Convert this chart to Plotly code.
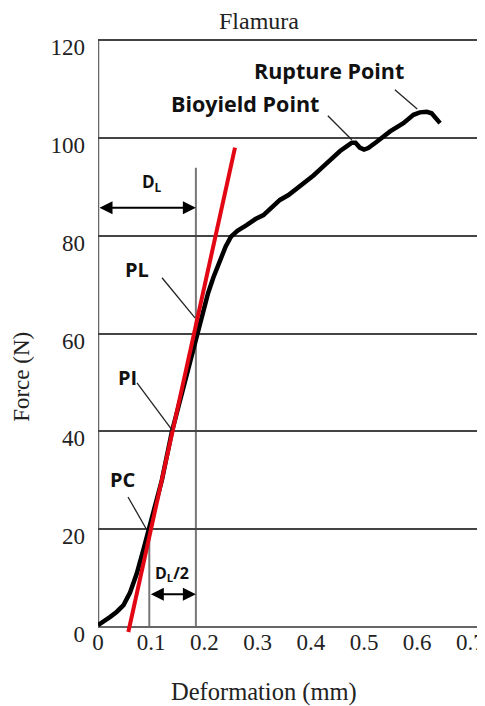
import plotly.graph_objects as go

# ---- data ----
deform_mm = [0, 0.012, 0.023, 0.035, 0.048, 0.060, 0.067, 0.073, 0.085, 0.095, 0.107, 0.120,
             0.139, 0.160, 0.186, 0.197, 0.207, 0.217, 0.229, 0.240, 0.250, 0.262, 0.280,
             0.296, 0.311, 0.326, 0.342, 0.358, 0.374, 0.390, 0.405, 0.420, 0.436, 0.455,
             0.468, 0.477, 0.484, 0.492, 0.500, 0.508, 0.524, 0.549, 0.574, 0.593, 0.605,
             0.618, 0.627, 0.637, 0.643]
force_n = [0.4, 1.2, 2.1, 3.1, 4.5, 7.0, 9.0, 11.0, 15.7, 19.8, 24.6, 30.0,
           40.0, 49.0, 60.0, 64.5, 68.3, 71.5, 75.0, 77.8, 79.8, 81.0, 82.2,
           83.4, 84.2, 85.8, 87.3, 88.3, 89.6, 90.8, 92.3, 93.8, 95.5, 97.3,
           98.3, 99.0, 99.0, 98.0, 97.6, 97.9, 99.2, 101.3, 103.0, 104.7, 105.2,
           105.3, 105.0, 103.8, 103.0]

tangent_x = [0.057, 0.2575]
tangent_y = [-1.0, 98.0]

x_ticks = [0, 0.1, 0.2, 0.3, 0.4, 0.5, 0.6, 0.7]
y_ticks = [0, 20, 40, 60, 80, 100, 120]

dl_x = 0.184          # D_L vertical line position
half_x = 0.0964       # D_L/2 vertical line position
dl_line_top = 93.9
half_line_top = 20
dl_arrow_y = 85.7
half_arrow_y = 6.7

# labels: text, x, y, size
point_labels = [("PL", 0.073, 73.0, 20), ("PI", 0.0545, 51.1, 20), ("PC", 0.047, 30.1, 20),
                ("Bioyield Point", 0.276, 107.0, 21.5), ("Rupture Point", 0.434, 113.7, 21.5)]
leaders = [((0.1203, 71.4), (0.1823, 63.2)), ((0.0733, 49.9), (0.139, 40.3)),
           ((0.0564, 26.6), (0.0921, 19.8)), ((0.432, 104.5), (0.477, 99.6)),
           ((0.558, 109.8), (0.600, 105.9))]

serif = "Liberation Serif"
sans = "Open Sans"

fig = go.Figure()
fig.add_trace(go.Scatter(x=deform_mm, y=force_n, mode="lines",
                         line=dict(color="black", width=4.5), hoverinfo="skip"))
fig.add_trace(go.Scatter(x=tangent_x, y=tangent_y, mode="lines",
                         line=dict(color="#e30613", width=4), hoverinfo="skip"))

shapes = []
shapes.append(dict(type="line", xref="x", yref="y", x0=0, x1=0, y0=0, y1=120,
                   line=dict(color="#666666", width=2.5), layer="below"))
shapes.append(dict(type="line", xref="x", yref="y", x0=dl_x, x1=dl_x, y0=0, y1=dl_line_top,
                   line=dict(color="#777777", width=2), layer="below"))
shapes.append(dict(type="line", xref="x", yref="y", x0=half_x, x1=half_x, y0=0, y1=half_line_top,
                   line=dict(color="#777777", width=2), layer="below"))
for (a, b) in leaders:
    shapes.append(dict(type="line", xref="x", yref="y", x0=a[0], y0=a[1], x1=b[0], y1=b[1],
                       line=dict(color="#222222", width=1.3)))

annotations = []
for (t, x, y, s) in point_labels:
    annotations.append(dict(x=x, y=y, xref="x", yref="y", text="<b>" + t + "</b>",
                            showarrow=False, font=dict(family=sans, size=s, color="#111111")))
annotations.append(dict(x=0.1015, y=90.8, xref="x", yref="y", text="<b>D<sub>L</sub></b>",
                        showarrow=False, font=dict(family=sans, size=17, color="#111111")))
annotations.append(dict(x=0.139, y=10.9, xref="x", yref="y", text="<b>D<sub>L</sub>/2</b>",
                        showarrow=False, font=dict(family=sans, size=16, color="#111111")))
for (x0, x1, y) in [(0.0, dl_x, dl_arrow_y), (half_x, dl_x, half_arrow_y)]:
    annotations.append(dict(x=x1, y=y, ax=x0, ay=y, xref="x", yref="y", axref="x", ayref="y",
                            text="", showarrow=True, arrowhead=2, startarrowhead=2,
                            arrowside="end+start", arrowwidth=2, arrowsize=1.3,
                            startarrowsize=1.3, arrowcolor="black", standoff=0, startstandoff=0))

annotations.append(dict(x=0.416, y=1.027, xref="paper", yref="paper", text="Flamura",
                        xanchor="center", yanchor="middle", showarrow=False,
                        font=dict(family=serif, size=24, color="#222222")))
annotations.append(dict(x=0.429, y=-0.099, xref="paper", yref="paper", text="Deformation (mm)",
                        xanchor="center", yanchor="middle", showarrow=False,
                        font=dict(family=serif, size=24.5, color="#222222")))
annotations.append(dict(x=-0.196, y=0.43, xref="paper", yref="paper", text="Force (N)",
                        xanchor="center", yanchor="middle", textangle=-90, showarrow=False,
                        font=dict(family=serif, size=23, color="#222222")))

# page body has an 8px default margin, so the figure is 8px smaller than the window
fig.update_layout(
    width=477, height=698,
    margin=dict(l=90, r=0, t=29, b=73, autoexpand=False),
    paper_bgcolor="white", plot_bgcolor="white",
    showlegend=False,
    shapes=shapes, annotations=annotations,
    xaxis=dict(range=[0, 0.7274], tickvals=x_ticks, ticktext=[str(v) for v in x_ticks],
               showgrid=False, zeroline=False, showline=False, automargin=False,
               tickfont=dict(family=serif, size=23, color="#222222"),
               ticks="", ticklabelstandoff=-7),
    yaxis=dict(range=[-1.2, 120.6], tickvals=y_ticks, ticktext=[str(v) for v in y_ticks],
               showgrid=True, gridcolor="#444444", gridwidth=2,
               zeroline=True, zerolinecolor="#666666", zerolinewidth=2,
               showline=False, automargin=False,
               tickfont=dict(family=serif, size=23, color="#222222"),
               ticks="", ticklabelstandoff=12, ticklabelshift=7),
)

fig.write_html("out.html")
